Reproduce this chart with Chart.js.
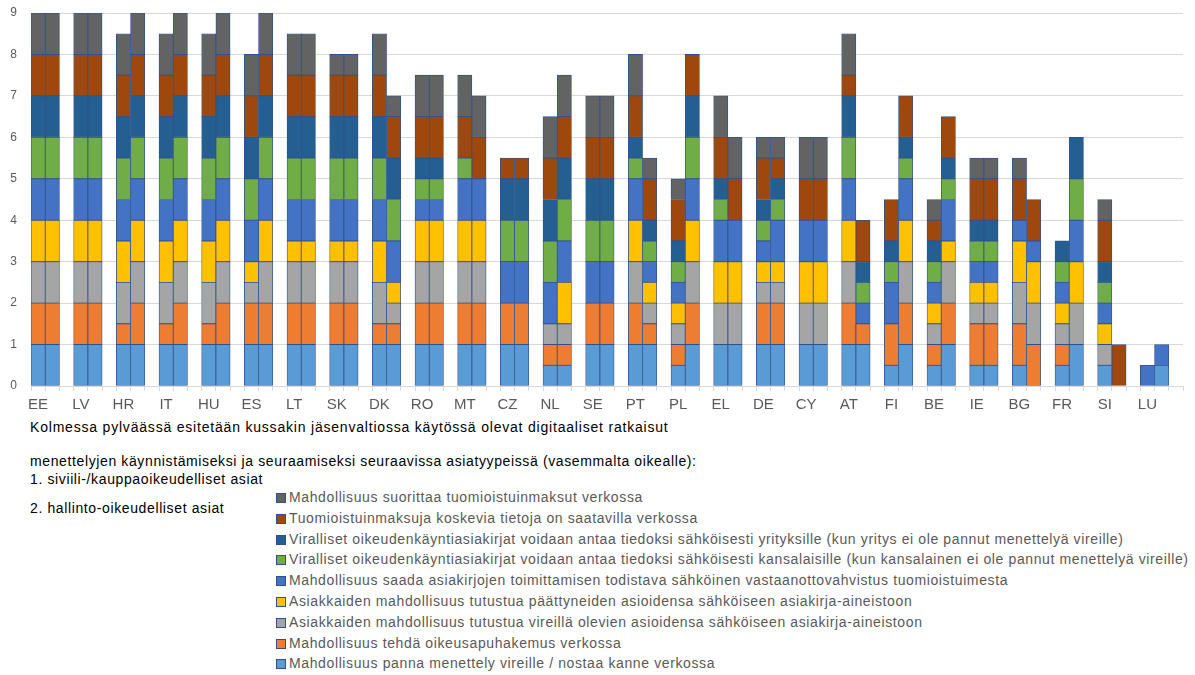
<!DOCTYPE html>
<html>
<head>
<meta charset="utf-8">
<script src="https://cdn.jsdelivr.net/npm/chart.js@4"></script>
<style>
  body { margin: 0; width: 1195px; height: 675px; background: #fff; position: relative; overflow: hidden;
         font-family: "Liberation Sans", Arial, sans-serif; }
  #wrap { position: absolute; left: 0; top: 0; width: 1195px; height: 416px; }
  .note { position: absolute; left: 30px; font-size: 14px; line-height: 16px; color: #000; white-space: nowrap; letter-spacing: 0.62px; }
  #legend { position: absolute; left: 276px; top: 489px; }
  .item { height: 20.8px; line-height: 16px; font-size: 14px; color: #595959; white-space: nowrap; display: flex; align-items: flex-start; letter-spacing: 0.62px; }
  .box { width: 8px; height: 8px; margin: 4px 3px 0 0; border: 0.5px solid #2F528F; }
</style>
</head>
<body>
<div id="wrap"><canvas id="chart"></canvas></div>
<div class="note" style="top:419px; letter-spacing:0.8px">Kolmessa pylväässä esitetään kussakin jäsenvaltiossa käytössä olevat digitaaliset ratkaisut</div>
<div class="note" style="top:453px">menettelyjen käynnistämiseksi ja seuraamiseksi seuraavissa asiatyypeissä (vasemmalta oikealle):</div>
<div class="note" style="top:471px">1. siviili-/kauppaoikeudelliset asiat</div>
<div class="note" style="top:500px">2. hallinto-oikeudelliset asiat</div>
<div id="legend"></div>
<script>
const countries = ["EE", "LV", "HR", "IT", "HU", "ES", "LT", "SK", "DK", "RO", "MT", "CZ", "NL", "SE",
  "PT", "PL", "EL", "DE", "CY", "AT", "FI", "BE", "IE", "BG", "FR", "SI", "LU"];

// bottom of the stack first
const seriesNames = [
  "Mahdollisuus panna menettely vireille / nostaa kanne verkossa",
  "Mahdollisuus tehdä oikeusapuhakemus verkossa",
  "Asiakkaiden mahdollisuus tutustua vireillä olevien asioidensa sähköiseen asiakirja-aineistoon",
  "Asiakkaiden mahdollisuus tutustua päättyneiden asioidensa sähköiseen asiakirja-aineistoon",
  "Mahdollisuus saada asiakirjojen toimittamisen todistava sähköinen vastaanottovahvistus tuomioistuimesta",
  "Viralliset oikeudenkäyntiasiakirjat voidaan antaa tiedoksi sähköisesti kansalaisille (kun kansalainen ei ole pannut menettelyä vireille)",
  "Viralliset oikeudenkäyntiasiakirjat voidaan antaa tiedoksi sähköisesti yrityksille (kun yritys ei ole pannut menettelyä vireille)",
  "Tuomioistuinmaksuja koskevia tietoja on saatavilla verkossa",
  "Mahdollisuus suorittaa tuomioistuinmaksut verkossa"
];
const seriesColors = ["#5B9BD5", "#ED7D31", "#A5A5A5", "#FFC000", "#4472C4", "#70AD47", "#255E91", "#9E480E", "#636363"];

// 1 = civil/commercial bar, 2 = administrative bar
const filing1    = [1,1,1,1,1,1,1,1,1,1,1,1,.5,1,1,.5,1,1,1,1,.5,.5,.5,.5,.5,.5,0];
const filing2    = [1,1,1,1,1,1,1,1,1,1,1,1,.5,1,1,1,1,1,1,1,1,1,.5,0,1,0,.5];
const legalAid1  = [1,1,.5,.5,.5,1,1,1,.5,1,1,1,.5,1,1,.5,0,1,0,1,1,.5,1,1,.5,0,0];
const legalAid2  = [1,1,1,1,1,1,1,1,.5,1,1,1,.5,1,.5,1,0,1,0,.5,1,1,1,1,0,0,0];
const pending1   = [1,1,1,1,1,.5,1,1,1,1,1,0,.5,0,1,.5,1,.5,1,1,0,.5,.5,1,.5,.5,0];
const pending2   = [1,1,1,1,1,1,1,1,.5,1,1,0,.5,0,.5,1,1,.5,1,0,1,1,.5,1,1,0,0];
const closed1    = [1,1,1,1,1,.5,.5,.5,1,1,1,0,0,0,1,.5,1,.5,1,1,0,.5,.5,1,.5,.5,0];
const closed2    = [1,1,1,1,1,1,.5,.5,.5,1,1,0,1,0,.5,1,1,.5,1,0,1,.5,.5,1,1,0,0];
const receipt1   = [1,1,1,1,1,1,1,1,1,.5,1,1,1,1,1,.5,1,.5,1,1,1,.5,.5,.5,.5,.5,.5];
const receipt2   = [1,1,1,1,1,1,1,1,1,.5,1,1,1,1,.5,1,1,1,1,.5,1,1,.5,.5,1,0,.5];
const citizens1  = [1,1,1,1,1,1,1,1,1,.5,.5,1,1,1,.5,.5,.5,.5,0,1,.5,.5,.5,0,.5,.5,0];
const citizens2  = [1,1,1,1,1,1,1,1,1,.5,0,1,1,1,.5,1,0,.5,0,.5,.5,.5,.5,0,1,0,0];
const companies1 = [1,1,1,1,1,1,1,1,1,.5,0,1,1,1,.5,.5,.5,.5,0,1,.5,.5,.5,0,.5,.5,0];
const companies2 = [1,1,1,1,1,1,1,1,1,.5,0,1,1,1,.5,1,0,.5,0,.5,.5,.5,.5,0,1,0,0];
const feeInfo1   = [1,1,1,1,1,1,1,1,1,1,1,.5,1,1,1,1,1,1,1,.5,1,.5,1,1,0,1,0];
const feeInfo2   = [1,1,1,1,1,1,1,1,1,1,1,.5,1,1,1,1,1,.5,1,1,1,1,1,1,0,1,0];
const feePay1    = [1,1,1,1,1,1,1,.5,1,1,1,0,1,1,1,.5,1,.5,1,1,0,.5,.5,.5,0,.5,0];
const feePay2    = [1,1,1,1,1,1,1,.5,.5,1,1,0,1,1,.5,0,1,.5,1,0,0,0,.5,0,0,0,0];

const yTicks = [0, 1, 2, 3, 4, 5, 6, 7, 8, 9];

const civilSets = [filing1, legalAid1, pending1, closed1, receipt1, citizens1, companies1, feeInfo1, feePay1];
const adminSets = [filing2, legalAid2, pending2, closed2, receipt2, citizens2, companies2, feeInfo2, feePay2];

// three slots per country: civil bar, administrative bar, gap
const labels = countries.flatMap(c => [c, "", ""]);
const nz = v => (v ? v : null);

const datasets = seriesNames.map((name, i) => ({
  label: name,
  data: countries.flatMap((c, k) => [nz(civilSets[i][k]), nz(adminSets[i][k]), null]),
  backgroundColor: seriesColors[i],
  borderColor: "#2F528F",
  borderWidth: 0.8,
  borderSkipped: false,
  categoryPercentage: 1,
  barPercentage: 1
}));

new Chart(document.getElementById("chart"), {
  type: "bar",
  data: { labels: labels, datasets: datasets },
  options: {
    responsive: true,
    maintainAspectRatio: false,
    animation: false,
    layout: { padding: { left: 0, right: 12, top: 13, bottom: 0 } },
    plugins: { legend: { display: false }, tooltip: { enabled: false } },
    scales: {
      x: {
        stacked: true,
        afterFit: s => { s.height = 30; },
        grid: { drawOnChartArea: false, drawTicks: true, tickLength: 5, color: "#D9D9D9", offset: true },
        border: { color: "#D9D9D9" },
        ticks: { autoSkip: false, maxRotation: 0, minRotation: 0, padding: 5,
                 color: "#595959", font: { family: "Liberation Sans", size: 15 } }
      },
      y: {
        stacked: true,
        min: 0,
        max: 9,
        afterFit: s => { s.width = 31; },
        afterBuildTicks: s => { s.ticks = yTicks.map(v => ({ value: v })); },
        grid: { color: "#D9D9D9", drawTicks: true, tickLength: 11, tickColor: "rgba(0,0,0,0)" },
        border: { display: false },
        ticks: { padding: 3, color: "#595959", font: { family: "Liberation Sans", size: 12 } }
      }
    }
  }
});

// legend: top of the stack first, as in the source
const legend = document.getElementById("legend");
for (let i = seriesNames.length - 1; i >= 0; i--) {
  const row = document.createElement("div");
  row.className = "item";
  const box = document.createElement("span");
  box.className = "box";
  box.style.background = seriesColors[i];
  const txt = document.createElement("span");
  txt.textContent = seriesNames[i];
  row.appendChild(box);
  row.appendChild(txt);
  legend.appendChild(row);
}
</script>
</body>
</html>
